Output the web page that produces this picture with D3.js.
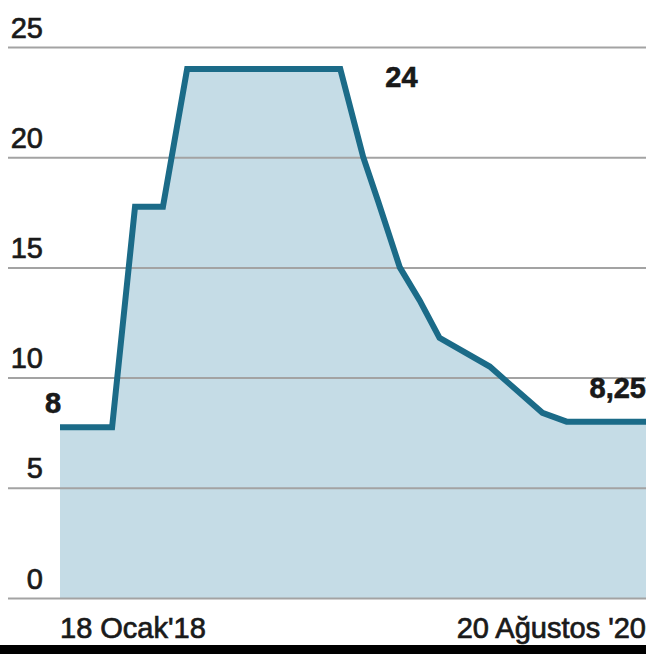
<!DOCTYPE html>
<html>
<head>
<meta charset="utf-8">
<script src="https://cdn.jsdelivr.net/npm/d3@7"></script>
<style>
  html, body { margin: 0; padding: 0; background: #fff; }
  svg text { font-family: "Liberation Sans", Arial, sans-serif; fill: #1a1a1a; }
  .lbl { stroke: #1a1a1a; stroke-width: 0.7px; }
  .tick line { stroke: #a3a3a3; stroke-width: 2; }
  .domain { display: none; }
</style>
</head>
<body>
<div id="chart"></div>
<script>
// politika faizi, 18 Ocak'18 - 20 Ağustos '20
const dates = ["2018-01-18", "2018-04-12", "2018-05-19", "2018-07-03", "2018-08-11",
               "2019-04-15", "2019-05-22", "2019-06-15", "2019-07-20", "2019-08-21",
               "2019-09-22", "2019-12-12", "2020-03-06", "2020-04-14", "2020-08-20"];
const rates = [7.75, 7.75, 17.75, 17.75, 24, 24, 20, 18, 15, 13.5, 11.8, 10.5, 8.4, 8, 8];
const yTicks = [0, 5, 10, 15, 20, 25];
const xLabels = ["18 Ocak'18", "20 Ağustos '20"];
const callouts = [{ i: 0, text: "8" }, { i: 5, text: "24" }, { i: 14, text: "8,25" }];

const W = 646, H = 654;
const parse = d3.timeParse("%Y-%m-%d");
const data = dates.map((d, i) => ({ date: parse(d), v: rates[i] }));

const svg = d3.select("#chart").append("svg")
    .attr("width", W).attr("height", H);

const x = d3.scaleTime()
    .domain(d3.extent(data, d => d.date))
    .range([60, 646]);
const y = d3.scaleLinear().domain([0, 25]).range([598, 47]);

// alan
svg.append("path")
    .datum(data)
    .attr("fill", "#c5dce6")
    .attr("d", d3.area().x(d => x(d.date)).y0(y(0)).y1(d => y(d.v)));

// yatay çizgiler + etiketler
const yAxis = svg.append("g")
    .attr("transform", "translate(8,0)")
    .call(d3.axisRight(y).tickValues(yTicks).tickSize(W - 8).tickFormat(d3.format("d")));
yAxis.selectAll(".tick text")
    .attr("class", "lbl")
    .attr("x", 35)
    .attr("dy", -10)
    .attr("text-anchor", "end")
    .style("font-size", "29px");

// çizgi
svg.append("path")
    .datum(data)
    .attr("fill", "none")
    .attr("stroke", "#1b6b88")
    .attr("stroke-width", 6)
    .attr("stroke-linejoin", "miter")
    .attr("d", d3.line().x(d => x(d.date)).y(d => y(d.v)));

// değer etiketleri
const cpos = [
    { dx: -15, dy: -14, anchor: "start" },
    { dx: 45, dy: 18, anchor: "start" },
    { dx: 0, dy: -24, anchor: "end" }
];
callouts.forEach((c, k) => {
    const d = data[c.i];
    svg.append("text")
        .attr("x", x(d.date) + cpos[k].dx)
        .attr("y", y(d.v) + cpos[k].dy)
        .attr("text-anchor", cpos[k].anchor)
        .style("font-size", "29px")
        .style("font-weight", "bold")
        .style("stroke", "#111")
        .style("stroke-width", "0.6px")
        .text(c.text);
});

// x etiketleri
const ends = d3.extent(data, d => d.date);
svg.append("text")
    .attr("class", "lbl")
    .attr("x", x(ends[0])).attr("y", 638)
    .attr("text-anchor", "start")
    .style("font-size", "29px")
    .text(xLabels[0]);
svg.append("text")
    .attr("class", "lbl")
    .attr("x", x(ends[1])).attr("y", 638)
    .attr("text-anchor", "end")
    .style("font-size", "29px")
    .text(xLabels[1]);

// alt siyah şerit
svg.append("rect")
    .attr("x", 0).attr("y", 645)
    .attr("width", W).attr("height", H - 645)
    .attr("fill", "#000");
</script>
</body>
</html>
